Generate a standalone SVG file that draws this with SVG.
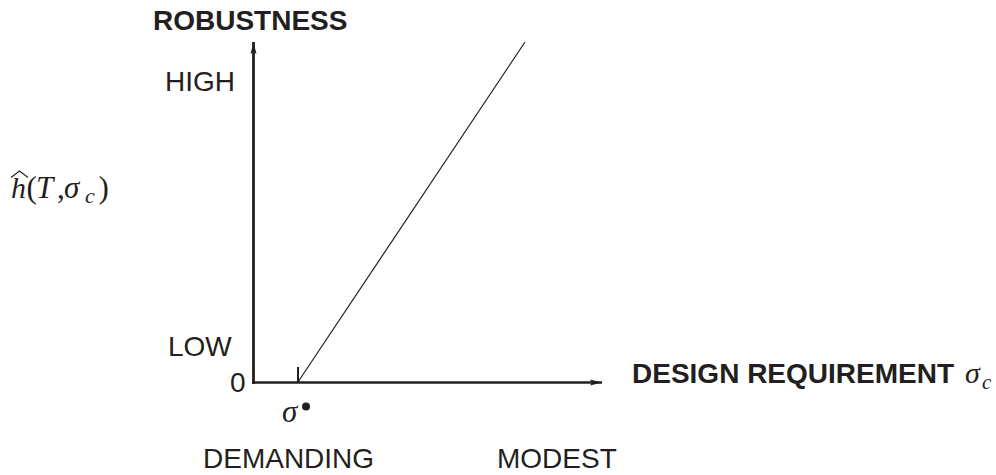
<svg xmlns="http://www.w3.org/2000/svg" width="996" height="475" viewBox="0 0 996 475">
  <style>
    .lbl { font-family: "Liberation Sans", Arial, sans-serif; font-size: 28px; fill: #231f20; }
    .bold { font-weight: bold; }
    .math { font-family: "Liberation Serif", "Times New Roman", serif; font-style: italic; fill: #231f20; }
    .rm { font-family: "Liberation Serif", "Times New Roman", serif; fill: #231f20; }
    .axis { stroke: #231f20; fill: none; }
  </style>
  <defs>
    <marker id="arr" viewBox="0 0 12 8" refX="12" refY="4" markerWidth="12" markerHeight="8" markerUnits="userSpaceOnUse" orient="auto">
      <path d="M0,1 L12,4 L0,7 L2,4 Z" fill="#231f20"/>
    </marker>
  </defs>
  <rect width="996" height="475" fill="#ffffff"/>

  <g id="connectors">
    <line class="axis" x1="253.5" y1="384" x2="253.5" y2="42" stroke-width="2.8" marker-end="url(#arr)"/>
    <line class="axis" x1="252" y1="382.5" x2="602" y2="382.5" stroke-width="2.5" marker-end="url(#arr)"/>
    <line class="axis" x1="298" y1="367" x2="298" y2="382" stroke-width="2"/>
    <line class="axis" x1="298" y1="382" x2="525" y2="42" stroke-width="1.2"/>
  </g>

  <g id="y-title"><text class="lbl bold" x="153" y="30" font-size="28.8">ROBUSTNESS</text></g>
  <g id="high"><text class="lbl" x="165" y="91">HIGH</text></g>
  <g id="low"><text class="lbl" x="168" y="356">LOW</text></g>
  <g id="zero"><text class="lbl" x="230" y="392">0</text></g>
  <g id="demanding"><text class="lbl" x="203" y="468">DEMANDING</text></g>
  <g id="modest"><text class="lbl" x="497" y="468">MODEST</text></g>
  <g id="x-title">
    <text class="lbl bold" x="632" y="383">DESIGN REQUIREMENT</text>
    <text class="math" x="965" y="383" font-size="30">σ</text>
    <text class="math" x="982" y="389" font-size="21">c</text>
  </g>
  <g id="sigma-star">
    <text class="math" x="282" y="421.5" font-size="31">σ</text>
    <circle cx="306" cy="406.5" r="4" fill="#231f20"/>
  </g>
  <g id="h-label">
    <polyline points="11,177.5 19.5,171 28,177.5" fill="none" stroke="#231f20" stroke-width="1.1"/>
    <text class="math" x="11" y="198" font-size="30">h</text>
    <text class="rm" x="26.5" y="198" font-size="31">(</text>
    <text class="math" x="36" y="198" font-size="31">T</text>
    <text class="rm" x="57" y="198" font-size="31">,</text>
    <text class="math" x="64" y="198" font-size="31">σ</text>
    <text class="math" x="85" y="203" font-size="22">c</text>
    <text class="rm" x="98.5" y="198" font-size="31">)</text>
  </g>
</svg>
